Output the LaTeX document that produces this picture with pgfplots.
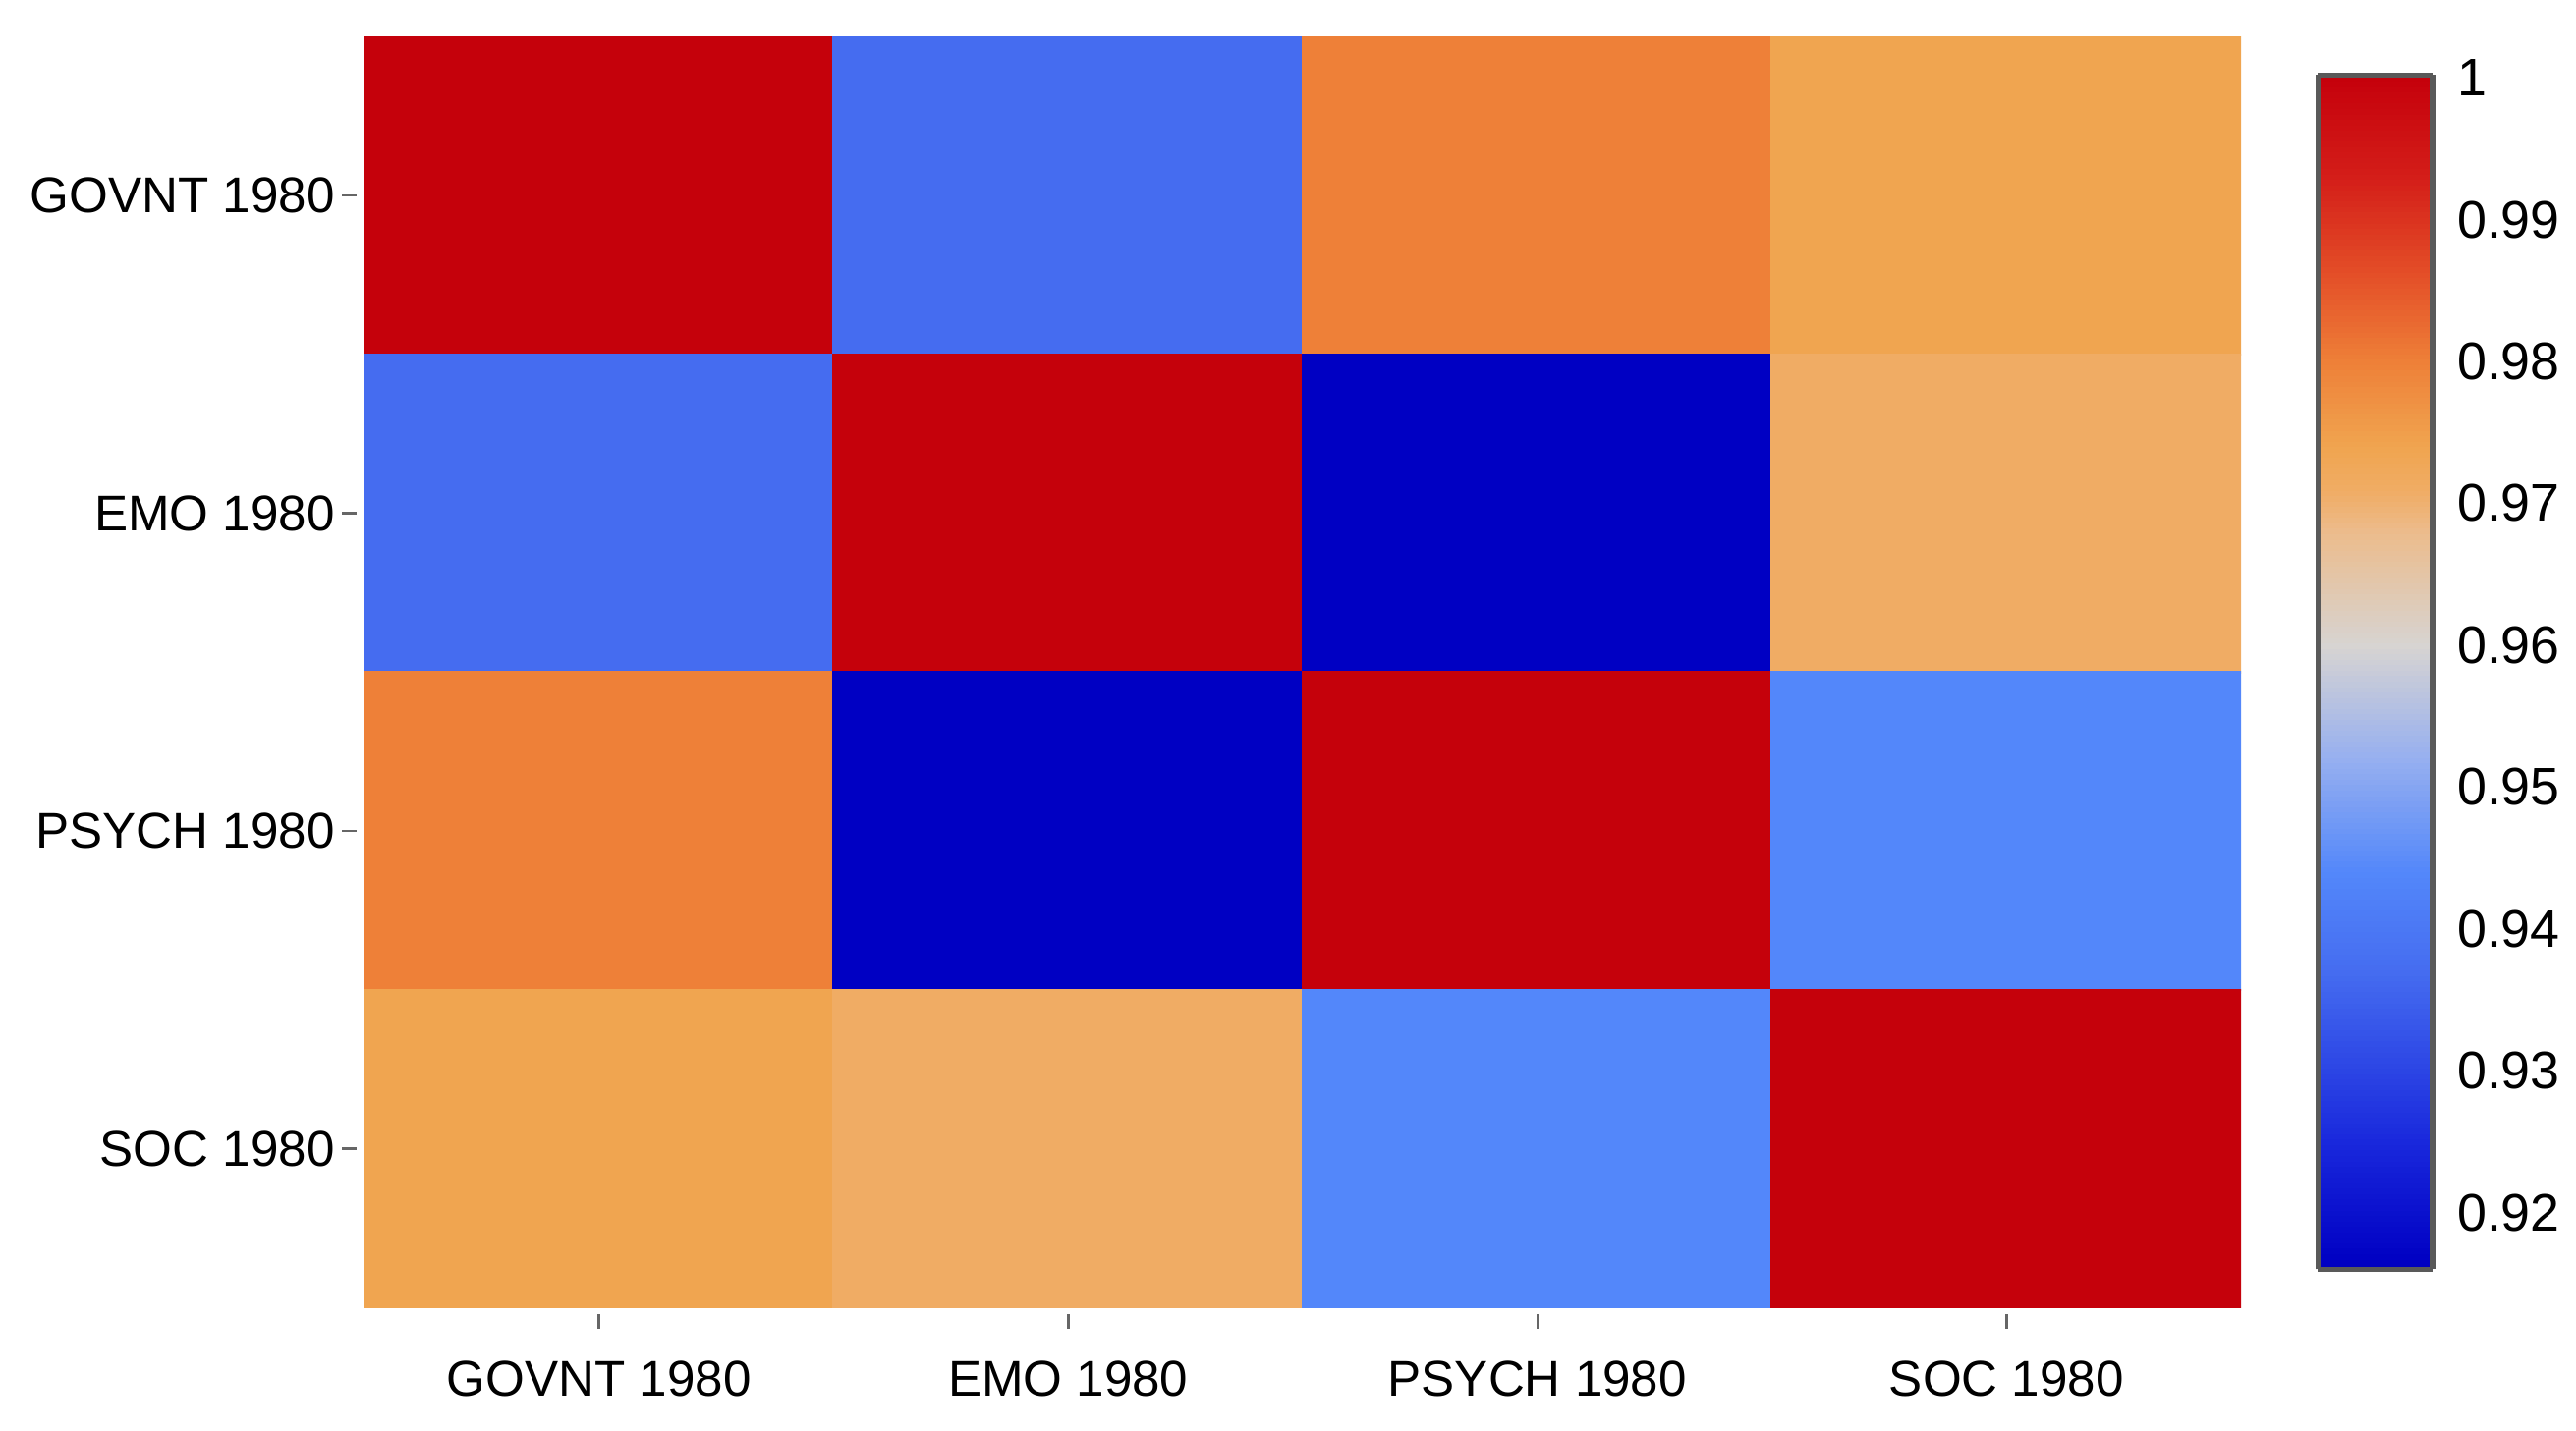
\documentclass[border=0pt]{standalone}
\usepackage{pgfplots}
\pgfplotsset{compat=1.18}
\usepackage{fontspec}
\setmainfont{Liberation Sans}
\begin{document}
\begin{tikzpicture}
\useasboundingbox (-56.6pt,-19.1pt) rectangle (343.4pt,203.1pt);
\begin{axis}[
  at={(0,0)}, anchor=south west,
  width=291.4pt, height=197.4pt, scale only axis,
  xmin=-0.5, xmax=3.5, ymin=-0.5, ymax=3.5, y dir=reverse,
  xtick={0,1,2,3}, ytick={0,1,2,3},
  xtick pos=bottom, ytick pos=left,
  xticklabels={GOVNT 1980, EMO 1980, PSYCH 1980, SOC 1980},
  yticklabels={GOVNT 1980, EMO 1980, PSYCH 1980, SOC 1980},
  axis line style={draw=none},
  tick align=outside, major tick length=2.3pt,
  xtick style={draw=black!60, line width=0.4pt, yshift=-1pt},
  ytick style={draw=black!60, line width=0.4pt, xshift=-1.2pt},
  ticklabel style={font=\fontsize{7.8}{10}\selectfont, text=black},
  xticklabel style={yshift=-2.5pt},
  yticklabel style={xshift=1.2pt},
  colormap={rb}{
    rgb255(0pt)=(0,0,190)
    rgb255(5pt)=(0,0,195)
    rgb255(90pt)=(25,40,220)
    rgb255(210pt)=(69,108,240)
    rgb255(280pt)=(83,135,250)
    rgb255(360pt)=(150,175,240)
    rgb255(440pt)=(215,212,210)
    rgb255(520pt)=(236,188,140)
    rgb255(550pt)=(240,172,100)
    rgb255(580pt)=(240,165,80)
    rgb255(640pt)=(238,128,56)
    rgb255(700pt)=(228,80,40)
    rgb255(770pt)=(212,30,25)
    rgb255(842pt)=(197,0,11)
  },
  point meta min=0.916, point meta max=1.0002,
  colorbar sampled,
  colorbar style={
    samples=220,
    at={(parent axis.east)}, anchor=west, xshift=3.4pt,
    width=17.8pt, height=185.5pt,
    ytick={0.92,0.93,0.94,0.95,0.96,0.97,0.98,0.99,1},
    yticklabels={0.92,0.93,0.94,0.95,0.96,0.97,0.98,0.99,1},
    major tick length=0pt,
    axis line style={draw=black!65, line width=0.8pt},
    yticklabel style={font=\fontsize{8.2}{10}\selectfont, xshift=0.3pt},
  },
]
\addplot[matrix plot*, mesh/cols=4, mesh/rows=4, point meta=explicit] table[meta=c]{
x y c
0 0 1.0
1 0 0.937
2 0 0.980
3 0 0.974
0 1 0.937
1 1 1.0
2 1 0.9165
3 1 0.971
0 2 0.980
1 2 0.9165
2 2 1.0
3 2 0.944
0 3 0.974
1 3 0.971
2 3 0.944
3 3 1.0
};
\end{axis}
\end{tikzpicture}
\end{document}
